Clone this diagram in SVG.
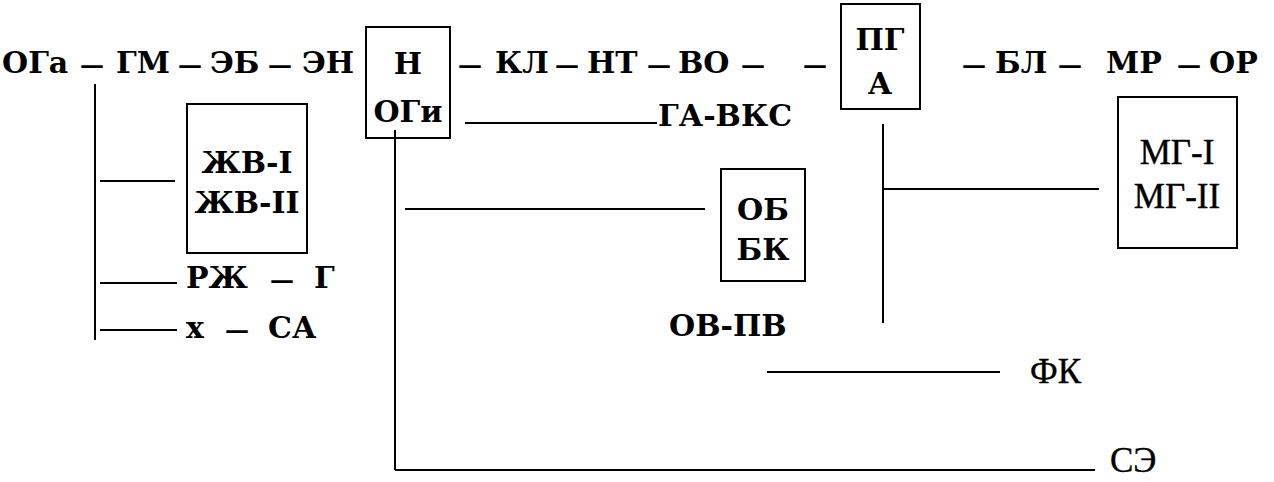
<svg xmlns="http://www.w3.org/2000/svg" width="1274" height="482" viewBox="0 0 1274 482">
<style>
text{font-family:"DejaVu Serif",serif;font-size:30px;fill:#000;font-weight:bold}
.d{font-size:24px}
.n{font-family:"Liberation Serif","Times New Roman",serif;font-weight:normal;font-size:35px;stroke:#000;stroke-width:0.4px}
.c{text-anchor:middle}
.box{fill:none;stroke:#000;stroke-width:2}
.ln{fill:none;stroke:#000;stroke-width:2}
</style>
<rect width="1274" height="482" fill="#fff"/>
<g id="connectors">
<line class="ln" x1="95" y1="84" x2="95" y2="340"/>
<line class="ln" x1="100" y1="181" x2="175" y2="181"/>
<line class="ln" x1="100" y1="283" x2="177" y2="283"/>
<line class="ln" x1="100" y1="330" x2="177" y2="330"/>
<line class="ln" x1="465" y1="123" x2="657" y2="123"/>
<line class="ln" x1="405" y1="209" x2="705" y2="209"/>
<line class="ln" x1="395" y1="130" x2="395" y2="470"/>
<line class="ln" x1="395" y1="470" x2="1095" y2="470"/>
<line class="ln" x1="767" y1="372" x2="1000" y2="372"/>
<line class="ln" x1="883" y1="124" x2="883" y2="323"/>
<line class="ln" x1="883" y1="189" x2="1099" y2="189"/>
</g>
<g id="row-left">
<text y="73"><tspan x="2">ОГа</tspan><tspan class="d" x="80">—</tspan><tspan x="116">ГМ</tspan><tspan class="d" x="178">—</tspan><tspan x="210">ЭБ</tspan><tspan class="d" x="268">—</tspan><tspan x="302">ЭН</tspan></text>
</g>
<g id="node-N">
<rect class="box" x="366" y="27" width="84" height="111"/>
<text class="c" x="408" y="74">Н</text>
<text class="c" x="408" y="122">ОГи</text>
</g>
<g id="row-mid">
<text y="73"><tspan class="d" x="458">—</tspan><tspan x="495">КЛ</tspan><tspan class="d" x="555">—</tspan><tspan x="587">НТ</tspan><tspan class="d" x="647">—</tspan><tspan x="678">ВО</tspan><tspan class="d" x="741">—</tspan><tspan class="d" x="803">—</tspan></text>
</g>
<g id="node-GAVKS"><text x="658" y="126">ГА-ВКС</text></g>
<g id="node-PGA">
<rect class="box" x="841" y="4" width="79" height="105"/>
<text class="c" x="880" y="50">ПГ</text>
<text class="c" x="880" y="94">А</text>
</g>
<g id="row-right">
<text y="73"><tspan class="d" x="962">—</tspan><tspan x="995">БЛ</tspan><tspan class="d" x="1058">—</tspan><tspan x="1106">МР</tspan><tspan class="d" x="1177">—</tspan><tspan x="1209">ОР</tspan></text>
</g>
<g id="node-ZhV">
<rect class="box" x="187" y="104" width="120" height="149"/>
<text class="c" x="247" y="173">ЖВ-I</text>
<text class="c" x="247" y="213">ЖВ-II</text>
</g>
<g id="node-RZh"><text y="288"><tspan x="186">РЖ</tspan><tspan class="d" x="270">—</tspan><tspan x="314">Г</tspan></text></g>
<g id="node-X"><text y="338"><tspan x="186">х</tspan><tspan class="d" x="225">—</tspan><tspan x="268">СА</tspan></text></g>
<g id="node-OB">
<rect class="box" x="721" y="169" width="84" height="112"/>
<text class="c" x="763" y="220">ОБ</text>
<text class="c" x="763" y="260">БК</text>
</g>
<g id="node-OVPV"><text x="669" y="336">ОВ-ПВ</text></g>
<g id="node-MG">
<rect class="box" x="1118" y="97" width="119" height="151"/>
<text class="c n" x="1177" y="164">МГ-I</text>
<text class="c n" x="1177" y="208">МГ-II</text>
</g>
<g id="node-FK"><text class="n" x="1030" y="383">ФК</text></g>
<g id="node-SE"><text class="n" x="1110" y="472">СЭ</text></g>
</svg>
